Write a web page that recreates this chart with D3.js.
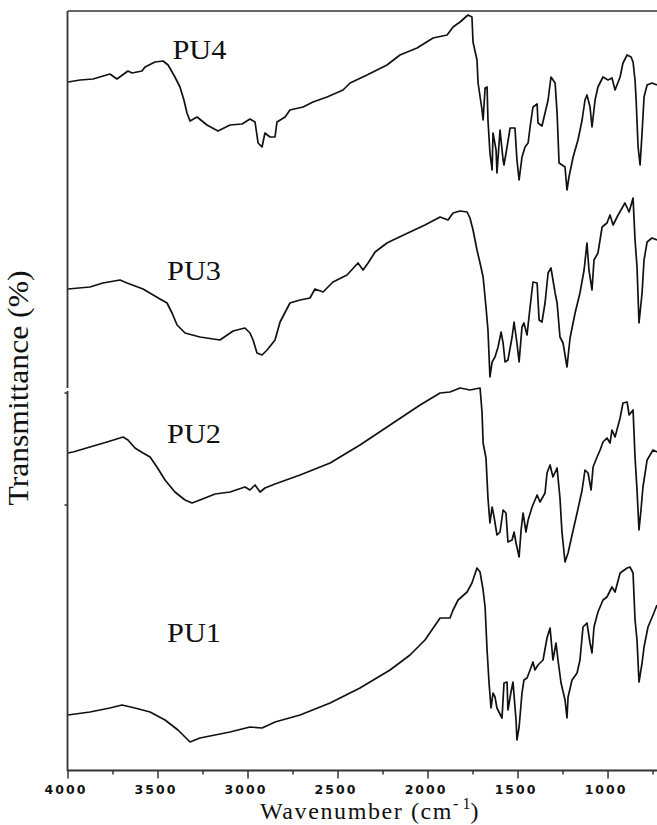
<!DOCTYPE html>
<html><head><meta charset="utf-8">
<script src="https://cdn.jsdelivr.net/npm/d3@7/dist/d3.min.js"></script>
<style>body{margin:0;background:#fff}svg{display:block}</style>
</head><body>
<script>
// ---- data (wavenumber cm-1, transmittance, arbitrary offset units) ----
const seriesNames = ["PU1","PU2","PU3","PU4"];

const pu4Wave = [4000,3933,3861,3767,3728,3667,3644,3589,3572,3517,3472,3444,3406,3378,3356,3339,3322,3283,3228,3167,3100,3033,2989,2961,2944,2922,2906,2878,2850,2839,2794,2767,2694,2639,2561,2472,2433,2339,2228,2156,2061,1972,1894,1861,1822,1778,1756,1750,1728,1722,1700,1694,1683,1672,1667,1656,1644,1639,1622,1617,1600,1583,1578,1561,1544,1517,1506,1494,1478,1461,1444,1433,1417,1394,1389,1367,1350,1333,1317,1294,1283,1272,1239,1228,1217,1194,1167,1144,1128,1117,1100,1089,1072,1056,1028,1000,978,961,933,917,894,872,861,850,844,833,822,811,800,783,756,728];
const pu4T = [68.8,69.0,69.1,69.6,69.1,69.9,69.7,69.9,70.3,70.8,70.9,70.5,69.3,68.3,67.0,65.7,64.9,65.3,64.5,63.9,64.5,64.6,65.1,64.8,62.7,62.3,63.7,63.3,63.3,64.8,65.3,66.0,66.3,66.8,67.3,68.0,68.7,69.5,70.5,71.5,72.2,73.2,73.5,74.3,74.8,75.5,75.3,72.8,71.0,68.7,66.0,65.0,68.2,68.3,65.0,61.7,60.0,63.7,62.0,59.7,64.0,61.0,60.5,62.3,64.2,64.2,61.0,59.0,61.3,62.3,62.7,64.3,66.3,66.6,64.7,64.4,65.7,67.0,69.3,68.7,65.7,60.7,60.3,58.0,59.3,61.3,63.0,65.0,67.0,67.5,66.3,64.3,67.0,68.3,69.3,69.0,69.2,68.0,69.3,70.7,71.5,71.3,70.8,69.0,67.0,62.3,60.5,63.7,67.3,68.5,68.7,68.5];

const pu3Wave = [4000,3878,3806,3711,3672,3583,3489,3450,3422,3394,3350,3267,3156,3083,3017,2989,2972,2950,2922,2894,2850,2822,2767,2711,2656,2628,2583,2528,2450,2389,2361,2333,2294,2228,2194,2100,2017,1933,1889,1861,1822,1783,1767,1750,1728,1711,1694,1678,1667,1656,1644,1628,1611,1594,1583,1572,1556,1533,1522,1506,1494,1478,1467,1450,1433,1417,1394,1383,1367,1350,1333,1317,1294,1283,1267,1250,1228,1211,1183,1156,1133,1117,1106,1089,1078,1056,1033,1006,989,972,944,906,883,861,850,839,828,811,800,783,756,728];
const pu3T = [48.1,48.3,48.7,49.0,48.7,48.1,47.1,46.7,45.7,44.5,43.7,43.3,43.0,43.9,44.2,43.7,43.0,41.7,41.5,42.0,43.0,44.8,46.7,47.0,47.2,48.1,47.8,48.8,49.5,50.7,50.0,50.7,51.8,52.7,53.0,53.8,54.5,55.3,55.0,55.7,55.9,55.8,55.2,54.0,52.0,50.7,49.3,46.3,44.0,39.3,40.8,41.3,42.3,43.8,42.7,40.8,41.0,43.3,44.8,42.7,40.8,44.3,44.7,43.5,46.3,48.8,48.7,45.0,44.8,46.7,49.7,50.2,47.7,46.7,43.3,42.7,40.3,43.2,45.7,47.7,50.0,52.7,50.0,48.0,51.0,51.7,54.3,54.7,55.5,54.5,55.5,56.7,55.8,57.2,53.0,50.3,44.7,47.7,51.0,52.8,53.2,53.0];

const pu2Wave = [4000,3972,3878,3783,3694,3667,3628,3583,3544,3506,3461,3406,3350,3311,3267,3183,3100,3017,2989,2961,2933,2906,2850,2711,2544,2378,2211,2044,1933,1878,1822,1767,1711,1700,1694,1678,1667,1656,1644,1633,1617,1600,1583,1567,1556,1533,1522,1511,1494,1483,1472,1456,1444,1422,1394,1378,1350,1339,1322,1306,1283,1267,1256,1239,1222,1200,1172,1144,1128,1111,1094,1083,1061,1044,1028,1006,989,978,961,933,917,894,883,861,850,839,828,817,806,783,750,728];
const pu2T = [31.7,31.8,32.3,32.8,33.3,33.0,32.2,31.7,31.3,30.3,29.0,27.8,27.0,26.7,27.0,27.6,27.8,28.3,28.0,28.5,27.8,28.2,28.6,29.5,30.7,32.5,34.5,36.5,37.7,37.8,38.2,38.0,38.2,35.8,32.7,31.2,27.2,24.7,26.3,25.3,23.5,23.8,26.0,25.7,22.8,23.0,23.8,22.7,21.3,24.0,25.7,23.8,25.0,26.3,27.5,26.8,27.7,29.7,30.5,29.3,30.2,27.2,23.8,20.8,21.7,23.5,25.7,28.0,30.0,29.7,28.0,30.3,31.3,32.0,32.8,33.2,32.7,34.0,33.3,35.2,36.7,36.8,35.5,36.0,31.3,28.0,24.0,26.0,28.3,31.0,32.0,31.8];

const pu1Wave = [4000,3878,3767,3700,3628,3544,3461,3389,3322,3267,3183,3100,2989,2922,2850,2711,2544,2378,2211,2100,2017,1933,1878,1861,1833,1783,1756,1728,1711,1694,1683,1672,1661,1650,1639,1628,1617,1606,1589,1578,1561,1556,1539,1528,1511,1506,1494,1478,1467,1450,1433,1417,1406,1389,1361,1339,1322,1306,1289,1278,1261,1239,1228,1222,1200,1172,1156,1139,1117,1100,1089,1078,1056,1028,1006,978,961,933,894,878,861,850,839,828,811,800,778,750,728];
const pu1T = [5.5,5.8,6.2,6.5,6.2,5.8,5.0,4.0,2.8,3.2,3.5,3.8,4.3,4.2,4.8,5.5,6.7,8.2,10.0,11.5,13.0,15.2,15.2,16.0,17.0,17.8,18.7,20.2,19.8,18.0,16.3,12.0,8.7,6.2,7.7,7.3,6.2,5.8,5.2,8.7,8.8,6.0,7.8,8.8,5.0,3.0,4.3,7.7,9.0,9.2,10.0,10.8,10.0,10.5,11.0,13.2,14.2,11.0,12.7,11.0,8.7,7.0,5.2,7.3,9.0,9.7,11.0,14.3,14.7,12.7,11.7,14.3,15.8,17.0,17.3,18.3,17.8,19.7,20.2,20.3,19.7,15.0,13.0,8.8,10.7,12.3,14.3,15.5,16.5];

const xTickLabels = [4000,3500,3000,2500,2000,1500,1000];
const xMinorTicks = [3750,3250,2750,2250,1750,1250,750];
const yTicks = [26.5,37.7];
const labelPos = [ // label anchor in data units [wavenumber, transmittance]
  {name:"PU1", w:3450, t:12.8},
  {name:"PU2", w:3450, t:32.7},
  {name:"PU3", w:3450, t:49.0},
  {name:"PU4", w:3420, t:71.1}
];

const W = 657, H = 825;
const svg = d3.select("body").append("svg").attr("width", W).attr("height", H);
const x = d3.scaleLinear().domain([4000, 728]).range([68, 657]);
const y = d3.scaleLinear().domain([0, 75.9]).range([770, 11]);

const data = [
  pu1Wave.map((w,i)=>[w,pu1T[i]]),
  pu2Wave.map((w,i)=>[w,pu2T[i]]),
  pu3Wave.map((w,i)=>[w,pu3T[i]]),
  pu4Wave.map((w,i)=>[w,pu4T[i]])
];

const line = d3.line().x(d=>x(d[0])).y(d=>y(d[1]));
svg.append("g").selectAll("path").data(data).join("path")
  .attr("d", line).attr("fill","none").attr("stroke","#111")
  .attr("stroke-width",1.7).attr("stroke-linejoin","round");

// top frame
svg.append("line").attr("x1",x(4000)).attr("x2",W).attr("y1",y(75.9)).attr("y2",y(75.9))
  .attr("stroke","#333").attr("stroke-width",1.6);

// y axis (two pieces with small gap)
svg.append("line").attr("x1",67.5).attr("x2",67.5).attr("y1",y(75.9)).attr("y2",388)
  .attr("stroke","#333").attr("stroke-width",1.8);
svg.append("line").attr("x1",67.5).attr("x2",67.5).attr("y1",391).attr("y2",771)
  .attr("stroke","#333").attr("stroke-width",1.8);
svg.append("g").selectAll("line").data(yTicks).join("line")
  .attr("x1",64.5).attr("x2",67.5).attr("y1",d=>y(d)).attr("y2",d=>y(d))
  .attr("stroke","#333").attr("stroke-width",1.5);

// x axis
const gx = svg.append("g").attr("transform","translate(0,770.5)");
gx.append("line").attr("x1",67).attr("x2",W).attr("stroke","#333").attr("stroke-width",1.8);
gx.selectAll(".maj").data(xTickLabels).join("line").attr("class","maj")
  .attr("x1",d=>x(d)).attr("x2",d=>x(d)).attr("y1",0).attr("y2",8)
  .attr("stroke","#333").attr("stroke-width",1.5);
gx.selectAll(".min").data(xMinorTicks).join("line").attr("class","min")
  .attr("x1",d=>x(d)).attr("x2",d=>x(d)).attr("y1",0).attr("y2",4)
  .attr("stroke","#333").attr("stroke-width",1.5);
gx.selectAll("text").data(xTickLabels).join("text")
  .attr("x",d=>x(d)-2).attr("y",23).attr("text-anchor","middle")
  .attr("font-family","DejaVu Sans").attr("font-weight","bold").attr("font-size",12.5)
  .attr("letter-spacing",2).attr("fill","#111").text(d=>d);

// axis titles
const xt = svg.append("text").attr("x",370).attr("y",819).attr("text-anchor","middle")
  .attr("font-family","Liberation Serif").attr("font-size",24).attr("letter-spacing",1.6)
  .attr("fill","#111");
xt.append("tspan").text("Wavenumber (cm");
xt.append("tspan").attr("font-size",16).attr("dy",-10).attr("letter-spacing",0).text("- 1");
xt.append("tspan").attr("dy",10).text(")");

svg.append("text").attr("transform","translate(28,388) rotate(-90)")
  .attr("text-anchor","middle").attr("font-family","Liberation Serif").attr("font-size",30)
  .attr("textLength",235).attr("lengthAdjust","spacingAndGlyphs").attr("fill","#111")
  .text("Transmittance (%)");

// series labels
svg.append("g").selectAll("text").data(labelPos).join("text")
  .attr("x",d=>x(d.w)).attr("y",d=>y(d.t))
  .attr("font-family","Liberation Serif").attr("font-size",27).attr("fill","#111")
  .attr("textLength",54).attr("lengthAdjust","spacingAndGlyphs")
  .text(d=>d.name);
</script>
</body></html>
